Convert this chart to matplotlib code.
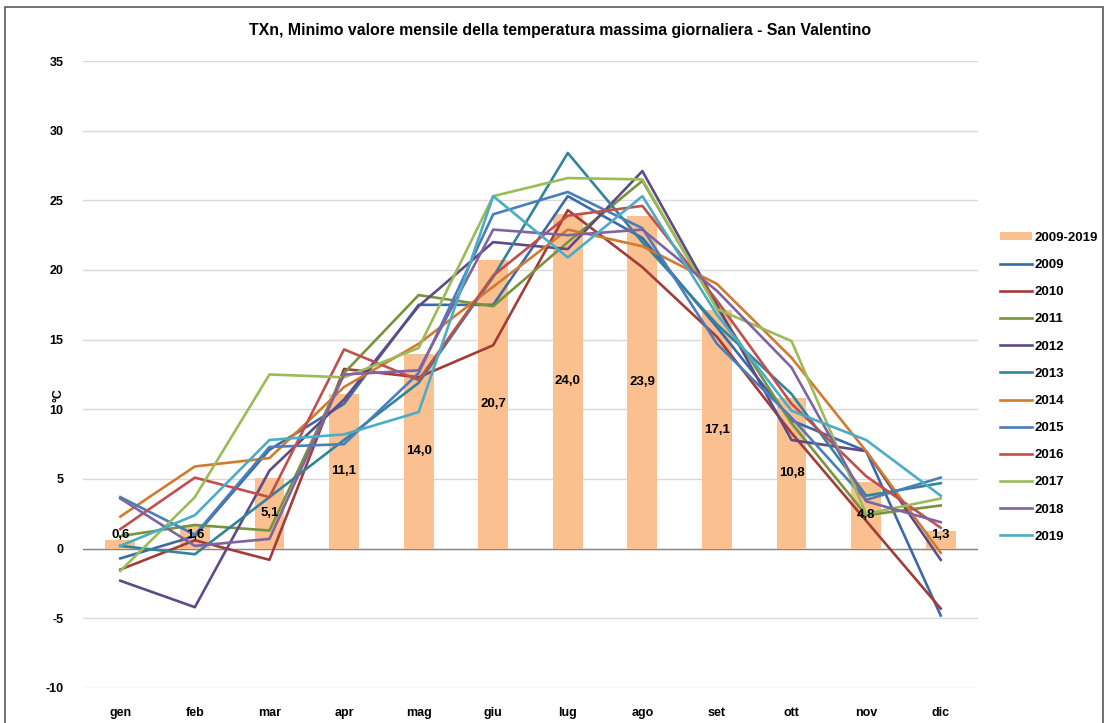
import numpy as np
import matplotlib
matplotlib.use("Agg")
import matplotlib.pyplot as plt
from matplotlib.patches import Rectangle

plt.rcParams['font.family'] = ['Liberation Sans', 'DejaVu Sans']
plt.rcParams['axes.unicode_minus'] = False

mesi = ['gen', 'feb', 'mar', 'apr', 'mag', 'giu', 'lug', 'ago', 'set', 'ott', 'nov', 'dic']

# media 2009-2019 (barre)
media = [0.6, 1.6, 5.1, 11.1, 14.0, 20.7, 24.0, 23.9, 17.1, 10.8, 4.8, 1.3]

# singoli anni (linee)
y2009 = [-0.7, 0.9, 7.1, 10.4, 17.5, 17.5, 25.3, 22.3, 15.9, 9.2, 7.0, -4.8]
y2010 = [-1.5, 0.6, -0.8, 12.9, 12.3, 14.6, 24.3, 20.2, 15.2, 8.3, 2.0, -4.3]
y2011 = [0.9, 1.7, 1.3, 12.6, 18.2, 17.4, 22.0, 26.4, 17.3, 9.0, 2.4, 3.1]
y2012 = [-2.3, -4.2, 5.6, 10.7, 17.4, 22.0, 21.5, 27.1, 17.5, 7.8, 7.0, -0.8]
y2013 = [0.2, -0.4, 3.7, 7.8, 11.9, 19.5, 28.4, 22.0, 16.1, 11.1, 3.8, 4.7]
y2014 = [2.3, 5.9, 6.5, 11.6, 14.7, 18.8, 22.9, 21.7, 19.0, 13.7, 7.0, -0.3]
y2015 = [3.7, 1.0, 7.3, 7.5, 12.6, 24.0, 25.6, 23.0, 14.7, 9.4, 3.5, 5.1]
y2016 = [1.4, 5.1, 3.7, 14.3, 12.1, 19.6, 23.9, 24.6, 17.8, 10.4, 5.2, 1.5]
y2017 = [-1.6, 3.7, 12.5, 12.3, 14.4, 25.3, 26.6, 26.5, 17.2, 14.9, 2.5, 3.6]
y2018 = [3.6, 0.2, 0.7, 12.5, 12.8, 22.9, 22.5, 22.9, 18.5, 13.0, 3.4, 1.9]
y2019 = [0.2, 2.4, 7.8, 8.2, 9.8, 25.3, 20.9, 25.3, 16.8, 9.9, 7.8, 3.8]

anni = ['2009', '2010', '2011', '2012', '2013', '2014', '2015', '2016', '2017', '2018', '2019']
serie = [y2009, y2010, y2011, y2012, y2013, y2014, y2015, y2016, y2017, y2018, y2019]
colori = ['#3C6AA8', '#A33B37', '#77933C', '#5F4A87', '#31849B', '#D27A2E',
          '#4A7EBB', '#C0504D', '#9BBB59', '#8064A2', '#4BACC6']

fig = plt.figure(figsize=(11.07, 7.23), dpi=100)
ax = fig.add_axes([83 / 1107, 1 - 688 / 723, (978 - 83) / 1107, (688 - 61) / 723])

x = np.arange(len(mesi))
ax.bar(x, media, width=0.4, color='#FAC090', label='2009-2019', zorder=2)
for v, xi in zip(media, x):
    ax.text(xi, max(v / 2, 0.95), f"{v:.1f}".replace('.', ','), ha='center', va='center',
            fontsize=9.5, fontweight='bold', color='black', zorder=10)

for nome, s, c in zip(anni, serie, colori):
    ax.plot(x, s, color=c, lw=1.9, label=nome, zorder=3)

ax.set_xlim(-0.5, len(mesi) - 0.5)
ax.set_ylim(-10, 35)
ax.set_yticks(np.arange(-10, 36, 5))
ax.yaxis.grid(True, color='#D9D9D9', lw=1)
ax.set_axisbelow(True)
ax.axhline(0, color='#868686', lw=1, zorder=1.5)
for sp in ax.spines.values():
    sp.set_visible(False)
ax.tick_params(length=0)
ax.tick_params(axis='y', pad=14)
ax.tick_params(axis='x', pad=14)
ax.set_xticks(x)
ax.set_xticklabels(mesi)
for lab in ax.get_xticklabels() + ax.get_yticklabels():
    lab.set_fontweight('bold')
    lab.set_fontsize(9)

fig.text(58 / 1107, 1 - 395 / 723, '°C', rotation=90, ha='center', va='center',
         fontsize=9, fontweight='bold')
fig.text(560 / 1107, 1 - 31 / 723,
         'TXn, Minimo valore mensile della temperatura massima giornaliera - San Valentino',
         ha='center', va='center', fontsize=11.4, fontweight='bold')

h, l = ax.get_legend_handles_labels()
h = h[-1:] + h[:-1]
l = l[-1:] + l[:-1]
leg = fig.legend(h, l, loc='upper left', bbox_to_anchor=(988 / 1107, 1 - 220 / 723), frameon=False,
                 fontsize=9.5, handlelength=2.4, handleheight=0.55, handletextpad=0.2,
                 labelspacing=1.15)
for t in leg.get_texts():
    t.set_fontweight('bold')

fig.patches.append(Rectangle((5 / 1107, -0.02), 1098 / 1107, 1.02 - 7 / 723,
                             transform=fig.transFigure, fill=False,
                             edgecolor='#595959', lw=1.2))

fig.savefig('out.png', dpi=100)
